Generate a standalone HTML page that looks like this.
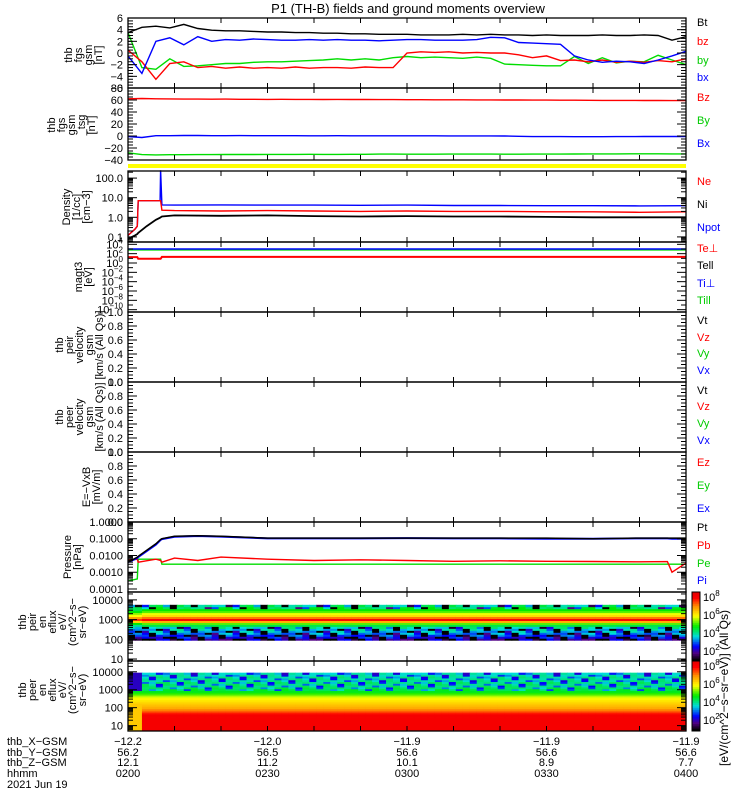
<!DOCTYPE html>
<html><head><meta charset="utf-8"><style>
html,body{margin:0;padding:0;background:#fff;}
svg{display:block;font-family:"Liberation Sans",sans-serif;}
</style></head><body>
<svg id="chart" width="750" height="800" viewBox="0 0 750 800" xmlns="http://www.w3.org/2000/svg">
<rect x="0" y="0" width="750" height="800" fill="#fff"/>
<text x="408" y="13" font-size="13" text-anchor="middle">P1 (TH-B) fields and ground moments overview</text>
</svg>
<script>
// ---------------- data ----------------
const fgsTimes = [0,3,6,9,12,15,18,21,24,27,30,33,36,39,42,45,48,51,54,57,60,63,66,69,72,75,78,81,84,87,90,93,96,99,102,105,108,111,114,117,120];
const fgsBt = [3.5,4.4,4.6,4.3,4.9,4.2,3.9,3.8,3.8,3.7,3.6,3.6,3.5,3.5,3.4,3.4,3.3,3.3,3.2,3.2,3.2,3.1,3.1,3.1,3.2,3.1,3.2,3.1,3.1,3.0,3.1,3.0,3.0,3.0,3.1,3.0,3.0,3.1,3.0,2.2,2.8];
const fgsBx = [-0.5,-3.5,2.0,2.6,1.4,2.8,2.0,2.3,2.2,2.4,2.3,2.2,2.2,2.3,2.2,2.3,2.2,2.2,2.1,2.2,2.3,2.3,2.2,2.2,2.2,2.3,2.7,2.6,1.8,1.7,1.6,1.5,-0.5,-1.2,-1.6,-1.4,-1.5,-1.8,-1.2,-0.5,0.3];
const fgsBz = [0.5,-1.5,-4.5,-1.8,-1.5,-2.5,-2.3,-2.6,-2.4,-2.6,-2.5,-2.6,-2.4,-2.6,-2.5,-2.5,-2.6,-2.4,-2.5,-2.5,0.0,0.2,0.1,0.2,0.0,0.1,0.0,0.0,-0.3,-0.8,-0.5,-1.3,-1.2,-1.5,-1.2,-1.6,-1.4,-1.6,-1.3,-1.5,-1.0];
const fgsBy = [3.5,-2.5,-2.8,-1.0,-2.3,-2.2,-2.0,-1.8,-1.8,-1.6,-1.5,-1.5,-1.4,-1.3,-1.2,-1.0,-1.2,-1.0,-1.2,-0.8,-0.6,-0.8,-0.7,-0.8,-0.9,-0.7,-0.9,-1.9,-2.0,-2.1,-2.2,-2.2,-0.6,-1.8,-0.8,-1.7,-1.4,-1.5,-0.4,-1.2,-2.0];
const tsgBz = [62,62.5,62,61.8,61.5,61.5,61.3,61.5,61.2,61.2,61.0,61.2,61.0,61.0,60.8,61.0,60.8,60.8,60.6,60.6,60.5,60.5,60.4,60.4,60.3,60.2,60.2,60.0,60.0,59.8,59.8,59.6,59.6,59.5,59.4,59.4,59.3,59.2,59.2,59.0,59.0];
const tsgBx = [-1,-2.5,0.5,0.5,0.8,0.8,0.5,0.5,0.6,0.5,0.5,0.5,0.5,0.4,0.4,0.5,0.4,0.4,0.4,0.4,0.3,0.3,0.3,0.2,0.2,0.2,0.2,0.0,-0.5,-1.0,-1.0,-1.0,-1.2,-1.2,-1.2,-1.0,-1.0,-0.8,-0.8,-0.8,-0.8];
const tsgBy = [-28,-31,-31.5,-31.2,-31.2,-31,-31,-30.8,-30.8,-30.8,-30.6,-30.6,-30.6,-30.5,-30.6,-30.6,-30.5,-30.5,-30.2,-30.2,-30.3,-30.3,-30.3,-30.2,-30.2,-30.2,-30.2,-30.3,-30.3,-30.2,-30.2,-30.2,-30.0,-29.8,-29.8,-29.8,-29.6,-29.6,-29.6,-29.8,-29.8];

const densTimes = [0,1.5,2,2.2,4,6,6.9,7,7.3,10,20,30,40,50,60,70,80,90,100,110,120];
const densNe   = [0.12,0.25,0.35,7,7,7,7,7,2.3,2.2,2.1,2.2,2.1,2.0,2.1,2.0,2.0,1.9,1.9,1.8,1.9];
const densNpot = [0.12,0.25,0.35,7,7,7,7,250,4.3,4.2,4.3,4.2,4.2,4.1,4.2,4.0,4.0,3.9,3.9,3.8,3.9];
const densNi   = [0.08,0.12,0.14,0.16,0.35,0.75,0.95,1.0,1.1,1.25,1.2,1.25,1.15,1.1,1.15,1.1,1.1,1.05,1.0,1.0,1.0];

const tempTimes = [0,2,2.2,7,7.3,120];
const tempTePerp = [18,18,8,8,20,20];
const tempTiPerp = [1000,1000,1000,1000,1000,1000];
const tempTiPar  = [650,650,650,650,650,650];

const presTimes = [0,2,2.2,6,7,7.3,10,15,20,30,40,50,60,70,80,90,100,110,116,117,120];
const presPt = [0.004,0.008,0.009,0.05,0.09,0.1,0.14,0.15,0.14,0.11,0.11,0.11,0.11,0.11,0.11,0.11,0.10,0.11,0.11,0.11,0.11];
const presPi = [0.004,0.007,0.008,0.045,0.085,0.095,0.13,0.145,0.135,0.105,0.105,0.105,0.11,0.105,0.105,0.1,0.1,0.105,0.105,0.1,0.1];
const presPb = [0.005,0.006,0.004,0.006,0.005,0.004,0.007,0.005,0.008,0.006,0.005,0.0055,0.005,0.0045,0.0048,0.0045,0.0044,0.0042,0.0043,0.001,0.0035];
const presPe = [0.0003,0.0004,0.006,0.006,0.006,0.003,0.003,0.003,0.003,0.003,0.003,0.003,0.003,0.003,0.003,0.003,0.003,0.003,0.003,0.003,0.003];

const peirLogE  = [2.0,2.1,2.2,2.3,2.4,2.5,2.6,2.7,2.8,2.9,3.0,3.1,3.2,3.3,3.4,3.5,3.6,3.7];
const peirLevel = [0.10,0.15,0.20,0.25,0.28,0.30,0.33,0.45,0.55,0.75,0.93,0.82,0.70,0.64,0.55,0.50,0.40,0.36];
const peirSpeck = [1,1,1,1,1,1,1,0,0,0,0,0,0,0,0,0,1,1];
const peerLogE  = [0.8,0.9,1.0,1.1,1.2,1.3,1.4,1.5,1.6,1.7,1.8,1.9,2.0,2.1,2.2,2.3,2.4,2.5,2.6,2.7,2.8,2.9,3.0,3.1,3.2,3.3,3.4,3.5,3.6,3.7,3.8,3.9];
const peerLevel = [0.95,0.95,0.95,0.95,0.95,0.95,0.95,0.95,0.95,0.90,0.84,0.80,0.76,0.74,0.72,0.70,0.68,0.66,0.63,0.57,0.52,0.48,0.44,0.42,0.40,0.40,0.40,0.38,0.38,0.38,0.36,0.35];
const peerSpeck = [0,0,0,0,0,0,0,0,0,0,0,0,0,0,0,0,0,0,0,0,0,0,1,1,1,1,1,1,1,1,1,1];
const speckPattern = [0,-0.3,0.08,-0.05,0.1,-0.4,0.05,0,-0.15,0.1,-0.45,0.04,0.02];

const xTickLabelsX = ['-12.2','-12.0','-11.9','-11.9','-11.9'];
const xTickLabelsY = ['56.2','56.5','56.6','56.6','56.6'];
const xTickLabelsZ = ['12.1','11.2','10.1','8.9','7.7'];
const xTickLabelsT = ['0200','0230','0300','0330','0400'];

// ---------------- helpers ----------------
const NS = 'http://www.w3.org/2000/svg';
const svg = document.getElementById('chart');
function mk(tag, attrs, parent) {
  const e = document.createElementNS(NS, tag);
  for (const k in attrs) e.setAttribute(k, attrs[k]);
  (parent || svg).appendChild(e);
  return e;
}
const X0 = 128, X1 = 686;
const xs = t => X0 + t / 120 * (X1 - X0);

function linPanel(top, bot, min, max) { return { top, bot, log: false, min, max, y: v => bot - (v - min) / (max - min) * (bot - top) }; }
function logPanel(top, bot, lmin, lmax) { return { top, bot, log: true, min: lmin, max: lmax, y: v => bot - (Math.log10(v) - lmin) / (lmax - lmin) * (bot - top) }; }

const P = {
  fgs: linPanel(18, 88, -6, 6),
  tsg: linPanel(88, 160, -40, 80),
  dens: logPanel(171, 242, Math.log10(0.055), Math.log10(230)),
  temp: logPanel(242, 312, -10.5, 4.5),
  vel1: linPanel(312, 382, 0, 1),
  vel2: linPanel(382, 452, 0, 1),
  efld: linPanel(452, 522, 0, 1),
  pres: logPanel(522, 592, -4.18, 0),
  peir: logPanel(592, 661, 0.9, 4.4),
  peer: logPanel(661, 731, 0.7, 4.6)
};

function drawLine(panel, times, vals, color, name, w) {
  const pts = times.map((t, i) => xs(t).toFixed(1) + ',' + panel.y(vals[i]).toFixed(1)).join(' ');
  const pl = mk('polyline', { points: pts, fill: 'none', stroke: color, 'stroke-width': w || 1.4, 'stroke-linejoin': 'miter' });
  
  
}

function cmap(v) {
  const stops = [[0, [0, 0, 0]], [0.1, [80, 0, 130]], [0.2, [0, 0, 255]], [0.35, [0, 220, 220]], [0.5, [0, 235, 0]], [0.65, [255, 255, 0]], [0.8, [255, 140, 0]], [0.92, [255, 0, 0]], [1, [230, 0, 0]]];
  v = Math.max(0, Math.min(1, v));
  for (let i = 1; i < stops.length; i++) {
    if (v <= stops[i][0]) {
      const a = stops[i - 1], b = stops[i], f = (v - a[0]) / (b[0] - a[0]);
      const c = a[1].map((q, k) => Math.round(q + (b[1][k] - q) * f));
      return 'rgb(' + c.join(',') + ')';
    }
  }
  return 'rgb(230,0,0)';
}

function drawSpec(panel, logE, level, speck, amp, early, name) {
  const g = mk('g', {});
  
  
  const nCols = 80, dt = 120 / nCols;
  for (let i = 0; i < nCols; i++) {
    const t = i * dt;
    for (let j = 0; j < logE.length; j++) {
      let v = level[j];
      if (speck[j]) v += amp * speckPattern[(i * 7 + j * 5) % speckPattern.length];
      if (t < 2.2) v = early(v, speck[j]);
      const yTop = panel.y(Math.pow(10, logE[j] + 0.05)), yBot = panel.y(Math.pow(10, logE[j] - 0.05));
      mk('rect', { x: xs(t).toFixed(2), y: yTop.toFixed(2), width: (xs(dt) - X0 + 0.6).toFixed(2), height: (yBot - yTop + 0.4).toFixed(2), fill: cmap(v) }, g);
    }
  }
}

// ---------------- spectrograms ----------------
drawSpec(P.peir, peirLogE, peirLevel, peirSpeck, 1.0, (v, s) => v - 0.05, 'peir-energy-spectrogram');
drawSpec(P.peer, peerLogE, peerLevel, peerSpeck, 0.45, (v, s) => s ? 0.15 : Math.min(v, 0.72), 'peer-energy-spectrogram');

// yellow bar
const yb = mk('rect', { x: X0, y: 164, width: X1 - X0, height: 4, fill: '#ffff00' });



// ---------------- series ----------------
drawLine(P.fgs, fgsTimes, fgsBy, '#00dd00', 'fgs-by-line');
drawLine(P.fgs, fgsTimes, fgsBz, '#ff0000', 'fgs-bz-line');
drawLine(P.fgs, fgsTimes, fgsBx, '#0000ff', 'fgs-bx-line');
drawLine(P.fgs, fgsTimes, fgsBt, '#000000', 'fgs-bt-line');
drawLine(P.tsg, fgsTimes, tsgBz, '#ff0000', 'tsg-bz-line');
drawLine(P.tsg, fgsTimes, tsgBy, '#00dd00', 'tsg-by-line');
drawLine(P.tsg, fgsTimes, tsgBx, '#0000ff', 'tsg-bx-line');
drawLine(P.dens, densTimes, densNpot, '#0000ff', 'density-npot-line');
drawLine(P.dens, densTimes, densNe, '#ff0000', 'density-ne-line');
drawLine(P.dens, densTimes, densNi, '#000000', 'density-ni-line', 1.8);
drawLine(P.temp, tempTimes, tempTiPar, '#00dd00', 'temp-tipar-line');
drawLine(P.temp, tempTimes, tempTiPerp, '#0000ff', 'temp-tiperp-line');
drawLine(P.temp, tempTimes, tempTePerp, '#ff0000', 'temp-teperp-line', 2);
drawLine(P.pres, presTimes, presPe, '#00dd00', 'pressure-pe-line');
drawLine(P.pres, presTimes, presPb, '#ff0000', 'pressure-pb-line');
drawLine(P.pres, presTimes, presPi, '#0000ff', 'pressure-pi-line', 2);
drawLine(P.pres, presTimes, presPt, '#000000', 'pressure-pt-line', 1.5);

// ---------------- axes ----------------
function tick(x1, y1, x2, y2, parent) { mk('line', { x1, y1, x2, y2, stroke: '#000', 'stroke-width': 1 }, parent); }
function axes(key, labels, values, minors) {
  const p = P[key];
  const g = mk('g', {});
  
  
  mk('rect', { x: X0, y: p.top, width: X1 - X0, height: p.bot - p.top, fill: 'none', stroke: '#000', 'stroke-width': 1.3 }, g);
  for (let m = 10; m < 120; m += 10) { tick(xs(m), p.top, xs(m), p.top + 5, g); tick(xs(m), p.bot, xs(m), p.bot - 5, g); }
  values.forEach((v, i) => {
    const y = p.y(v);
    if (y < p.top - 0.5 || y > p.bot + 0.5) return;
    tick(X0, y, X0 + 9, y, g); tick(X1, y, X1 - 9, y, g);
    const tx = mk('text', { x: 123, y: (y + 4).toFixed(1), 'font-size': 11, 'text-anchor': 'end' }, g);
    if (typeof labels[i] === 'object') {
      tx.textContent = labels[i][0];
      const s = mk('tspan', { dy: -5, 'font-size': 8 }, tx); s.textContent = labels[i][1];
    } else tx.textContent = labels[i];
  });
  minors.forEach(v => { const y = p.y(v); if (y >= p.top && y <= p.bot) { tick(X0, y, X0 + 5, y, g); tick(X1, y, X1 - 5, y, g); } });
}
function linMinors(a, b, step) { const r = []; for (let v = a; v <= b + 1e-9; v += step) r.push(v); return r; }
function logMinors(d0, d1) { const r = []; for (let d = d0; d <= d1; d++) for (let k = 2; k <= 9; k++) r.push(k * Math.pow(10, d)); return r; }

axes('fgs', ['6', '4', '2', '0', '\u22122', '\u22124', '\u22126'], [6, 4, 2, 0, -2, -4, -6], linMinors(-6, 6, 0.5));
axes('tsg', ['80', '60', '40', '20', '0', '\u221220', '\u221240'], [80, 60, 40, 20, 0, -20, -40], linMinors(-40, 80, 5));
axes('dens', ['100.0', '10.0', '1.0', '0.1'], [100, 10, 1, 0.1], logMinors(-2, 2));
axes('temp', [['10', '4'], ['10', '2'], ['10', '0'], ['10', '\u22122'], ['10', '\u22124'], ['10', '\u22126'], ['10', '\u22128'], ['10', '\u221210']], [1e4, 1e2, 1, 1e-2, 1e-4, 1e-6, 1e-8, 1e-10], [1e3, 10, 0.1, 1e-3, 1e-5, 1e-7, 1e-9]);
['vel1', 'vel2', 'efld'].forEach(k => axes(k, ['1.0', '0.8', '0.6', '0.4', '0.2', '0.0'], [1, 0.8, 0.6, 0.4, 0.2, 0], linMinors(0, 1, 0.05)));
axes('pres', ['1.0000', '0.1000', '0.0100', '0.0010', '0.0001'], [1, 0.1, 0.01, 0.001, 0.0001], logMinors(-4, -1));
axes('peir', ['10000', '1000', '100', '10'], [10000, 1000, 100, 10], logMinors(0, 4));
axes('peer', ['10000', '1000', '100', '10'], [10000, 1000, 100, 10], logMinors(0, 4));

// ---------------- left titles ----------------
function vtitle(name, lines, x0, cy, step) {
  const g = mk('g', { transform: 'translate(' + x0 + ',' + cy + ') rotate(-90)' });
  
  
  lines.forEach((s, i) => { const t = mk('text', { x: 0, y: i * (step || 10), 'font-size': 11, 'text-anchor': 'middle' }, g); t.textContent = s; });
}
vtitle('fgs-y-axis-title', ['thb', 'fgs', 'gsm', '[nT]'], 72, 55);
vtitle('tsg-y-axis-title', ['thb', 'fgs', 'gsm', '_tsg', '[nT]'], 55, 125);
vtitle('density-y-axis-title', ['Density', '[1/cc]', '[cm\u22123]'], 70, 207);
vtitle('temp-y-axis-title', ['magt3', '[eV]'], 82, 277);
vtitle('peir-velocity-y-axis-title', ['thb', 'peir', 'velocity', 'gsm', '[km/s (All Qs)]'], 63, 345);
vtitle('peer-velocity-y-axis-title', ['thb', 'peer', 'velocity', 'gsm', '[km/s (All Qs)]'], 63, 417);
vtitle('efield-y-axis-title', ['E=\u2212VxB', '[mV/m]'], 90, 487);
vtitle('pressure-y-axis-title', ['Pressure', '[nPa]'], 71, 557);
vtitle('peir-spec-y-axis-title', ['thb', 'peir', 'en', 'eflux', 'eV/', '(cm^2\u2212s\u2212', 'sr\u2212eV)'], 26, 622);
vtitle('peer-spec-y-axis-title', ['thb', 'peer', 'en', 'eflux', 'eV/', '(cm^2\u2212s\u2212', 'sr\u2212eV)'], 26, 690);

// ---------------- right legends ----------------
const legendItems = [
  ['Bt', '#000', 26], ['bz', '#ff0000', 45], ['by', '#00cc00', 64], ['bx', '#0000ff', 81],
  ['Bz', '#ff0000', 101], ['By', '#00cc00', 124], ['Bx', '#0000ff', 147],
  ['Ne', '#ff0000', 185], ['Ni', '#000', 208], ['Npot', '#0000ff', 231], ['Te\u22a5', '#ff0000', 252], ['Tell', '#000', 269], ['Ti\u22a5', '#0000ff', 287], ['Till', '#00cc00', 304],
  ['Vt', '#000', 324], ['Vz', '#ff0000', 341], ['Vy', '#00cc00', 357], ['Vx', '#0000ff', 374],
  ['Vt', '#000', 394], ['Vz', '#ff0000', 410], ['Vy', '#00cc00', 427], ['Vx', '#0000ff', 444],
  ['Ez', '#ff0000', 466], ['Ey', '#00cc00', 489], ['Ex', '#0000ff', 512],
  ['Pt', '#000', 531], ['Pb', '#ff0000', 549], ['Pe', '#00cc00', 567], ['Pi', '#0000ff', 584]
];
legendItems.forEach(it => {
  const t = mk('text', { x: 697, y: it[2], 'font-size': 11, fill: it[1] });
  t.textContent = it[0];
  
  
});

// ---------------- colorbars ----------------
const cbLabels = ['8', '6', '4', '2'];
[[592, 661, 'peir'], [661, 731, 'peer']].forEach(cb => {
  const g = mk('g', {});
  
  
  const n = 40, h = (cb[1] - cb[0]) / n;
  for (let i = 0; i < n; i++) mk('rect', { x: 692, y: (cb[0] + i * h).toFixed(2), width: 8, height: (h + 0.5).toFixed(2), fill: cmap(1 - i / (n - 1)) }, g);
  mk('rect', { x: 692, y: cb[0], width: 8, height: cb[1] - cb[0], fill: 'none', stroke: '#000', 'stroke-width': 1 }, g);
  cbLabels.forEach((l, i) => {
    const t = mk('text', { x: 703, y: cb[0] + 9 + i * 18, 'font-size': 11 }, g);
    t.textContent = '10';
    const s = mk('tspan', { dy: -5, 'font-size': 8 }, t); s.textContent = l;
  });
});
const cu = mk('text', { x: 0, y: 0, 'font-size': 12, 'text-anchor': 'middle', transform: 'translate(728,688) rotate(-90)' });
cu.textContent = '[eV/(cm^2\u2212s\u2212sr\u2212eV)] (All Qs)';



// ---------------- bottom time/position labels ----------------
const rows = [['thb_X\u2212GSM', xTickLabelsX, 745], ['thb_Y\u2212GSM', xTickLabelsY, 756], ['thb_Z\u2212GSM', xTickLabelsZ, 766], ['hhmm', xTickLabelsT, 777]];
rows.forEach(r => {
  const t = mk('text', { x: 7, y: r[2], 'font-size': 11 });
  t.textContent = r[0];
  
  
  r[1].forEach((v, i) => {
    const tv = mk('text', { x: xs(i * 30), y: r[2], 'font-size': 11, 'text-anchor': 'middle' });
    tv.textContent = v.replace('-', '\u2212');
    
    
  });
});
const dt = mk('text', { x: 7, y: 788, 'font-size': 11 });
dt.textContent = '2021 Jun 19';


</script>
</body></html>
